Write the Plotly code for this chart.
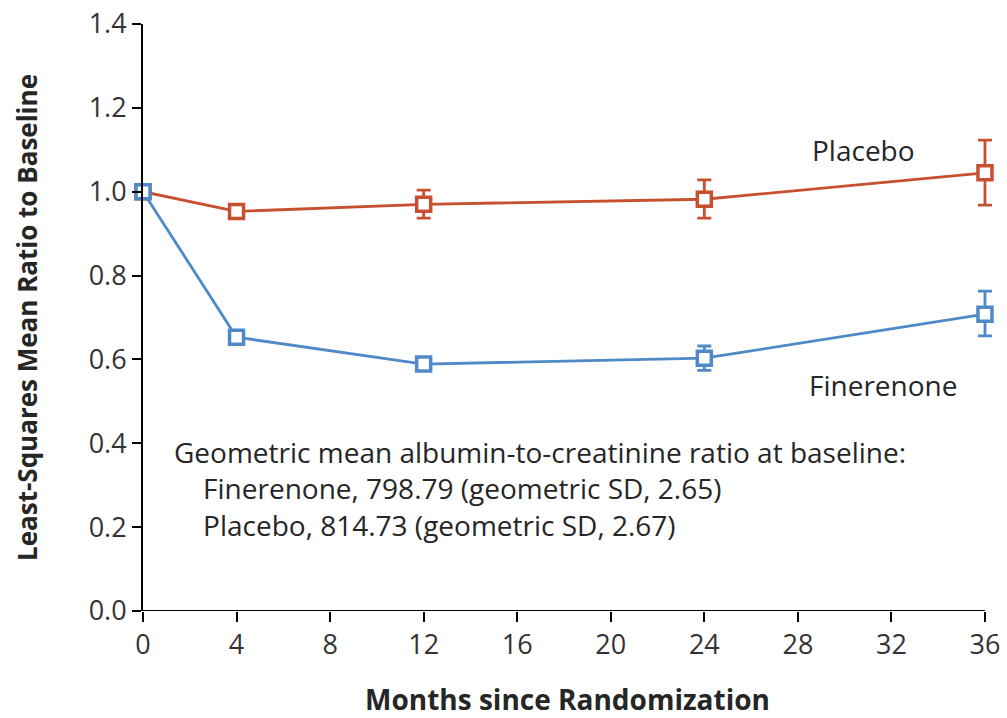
import plotly.graph_objects as go

months = [0, 4, 12, 24, 36]
placebo = [1.0, 0.953, 0.970, 0.982, 1.045]
placebo_hi = [0.0, 0.015, 0.034, 0.046, 0.078]
placebo_lo = [0.0, 0.015, 0.033, 0.045, 0.077]
finerenone = [1.0, 0.653, 0.589, 0.603, 0.708]
fin_hi = [0.0, 0.008, 0.012, 0.029, 0.055]
fin_lo = [0.0, 0.008, 0.012, 0.029, 0.052]

x_ticks = [0, 4, 8, 12, 16, 20, 24, 28, 32, 36]
y_ticks = [0.0, 0.2, 0.4, 0.6, 0.8, 1.0, 1.2, 1.4]

RED = "#C6502F"
BLUE = "#5089C8"
FONT = "Open Sans"
TXT = "#262626"

fig = go.Figure()
for name, y, hi, lo, col in [("Placebo", placebo, placebo_hi, placebo_lo, RED),
                              ("Finerenone", finerenone, fin_hi, fin_lo, BLUE)]:
    fig.add_trace(go.Scatter(
        x=months, y=y, name=name, mode="lines+markers",
        line=dict(color=col, width=2.8),
        marker=dict(symbol="square", size=14, color="white", line=dict(width=3.5, color=col)),
        error_y=dict(type="data", symmetric=False, array=hi, arrayminus=lo,
                     color=col, thickness=2.8, width=7),
        cliponaxis=False, showlegend=False))

fig.update_layout(
    width=1007, height=718,
    margin=dict(l=143, r=15, t=24, b=107),
    paper_bgcolor="white", plot_bgcolor="white",
    font=dict(family=FONT, size=27, color=TXT),
    xaxis=dict(range=[0, 36.3], tickvals=x_ticks, ticktext=[str(v) for v in x_ticks],
               showgrid=False, zeroline=False, showline=False, automargin=False,
               ticks="outside", ticklen=10, tickwidth=2, tickcolor="black",
               tickfont=dict(size=27, color="#333333"),
               title=dict(text="<b>Months since Randomization</b>", font=dict(size=28, color=TXT), standoff=30)),
    yaxis=dict(range=[0, 1.4], tickvals=y_ticks, ticktext=[f"{v:.1f}" for v in y_ticks],
               showgrid=False, zeroline=False, showline=True, linecolor="black", linewidth=2,
               automargin=False,
               ticks="outside", ticklen=9, tickwidth=2, tickcolor="black",
               tickfont=dict(size=27, color="#333333"),
               title=dict(text="<b>Least-Squares Mean Ratio to Baseline</b>", font=dict(size=26, color=TXT), standoff=44)),
)

# x axis baseline ending at the last tick
fig.add_shape(type="line", xref="x", yref="y", x0=x_ticks[0], x1=x_ticks[-1], y0=0, y1=0,
              line=dict(color="black", width=2), layer="above")

fig.add_annotation(x=28.5, y=1.10, xref="x", yref="y", text="Placebo", showarrow=False,
                   xanchor="left", font=dict(size=28, color=TXT))
fig.add_annotation(x=28.4, y=0.539, xref="x", yref="y", text="Finerenone", showarrow=False,
                   xanchor="left", font=dict(size=28, color=TXT))
fig.add_annotation(x=1.24, y=0.293, xref="x", yref="y", xanchor="left", yanchor="middle", align="left",
                   showarrow=False, font=dict(size=28, color=TXT),
                   text="Geometric mean albumin-to-creatinine ratio at baseline:<br>"
                        "    Finerenone, 798.79 (geometric SD, 2.65)<br>"
                        "    Placebo, 814.73 (geometric SD, 2.67)")

fig.write_html("out.html", config={"displayModeBar": False},
               post_script="document.body.style.margin='0';")
